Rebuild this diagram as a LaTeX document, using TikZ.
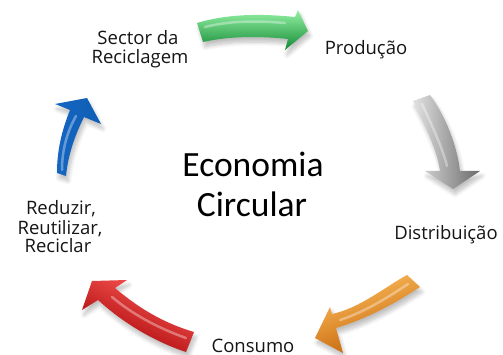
\documentclass[tikz,border=0pt]{standalone}
\usepackage{fontspec}
\setmainfont{Open Sans}
\newfontfamily\calfont{Carlito}
\usetikzlibrary{shadows.blur}
\definecolor{txt}{HTML}{151515}
\definecolor{gTop}{HTML}{95F2A5}\definecolor{gMid}{HTML}{2BC255}\definecolor{gBot}{HTML}{138A35}
\definecolor{yLeft}{HTML}{E2E2E2}\definecolor{yMid}{HTML}{ABABAB}\definecolor{yRight}{HTML}{6A6A6A}
\definecolor{oTop}{HTML}{FFC262}\definecolor{oMid}{HTML}{F08010}\definecolor{oBot}{HTML}{C05C00}
\definecolor{rTop}{HTML}{FF5A5A}\definecolor{rMid}{HTML}{E01515}\definecolor{rBot}{HTML}{A00000}
\definecolor{bLeft}{HTML}{1566C2}\definecolor{bMid}{HTML}{4CA9F2}\definecolor{bRight}{HTML}{105EB4}
\begin{document}
\begin{tikzpicture}[x=1pt,y=-1pt,
  lbl/.style={font=\fontsize{18.5}{19}\selectfont, text=txt, inner sep=0pt, anchor=base},
  big/.style={font=\calfont\fontsize{35.5}{40}\selectfont, text=black, inner sep=0pt, anchor=base},
  arr/.style={blur shadow={shadow xshift=2pt, shadow yshift=-5pt, shadow blur steps=8, shadow opacity=25, shadow blur radius=4pt}},
  hl/.style={line width=2.5pt, white, opacity=0.35, line cap=round}
]
\useasboundingbox (0,0) rectangle (503,355);

% labels
\node[lbl] (sec1) at (138,45) {Sector da};
\node[lbl] (sec2) at (140,64) {Reciclagem};
\node[lbl] (prod) at (366,55) {Produção};
\node[lbl] (dist) at (446,240) {Distribuição};
\node[lbl] (cons) at (253,352) {Consumo};
\node[lbl] (red1) at (61,215) {Reduzir,};
\node[lbl] (red2) at (60,235) {Reutilizar,};
\node[lbl] (red3) at (58,253) {Reciclar};
\node[big] (eco1) at (253,177) {Economia};
\node[big] (eco2) at (252,217) {Circular};

% green arrow
\path[arr, shade, top color=gTop, middle color=gMid, bottom color=gBot]
  (197,23) .. controls (230,13) and (265,14) .. (295,17)
  -- (298,10) -- (308,31) -- (285,50) -- (288,39)
  .. controls (260,36) and (230,36) .. (203,42) -- cycle;
\draw[hl] (205,27) .. controls (232,20) and (262,21) .. (285,23);

% gray arrow
\path[arr, shade, left color=yLeft, middle color=yMid, right color=yRight]
  (413,101) .. controls (425,125) and (437,150) .. (440,171)
  -- (425,171) -- (453,189) -- (480,171) -- (460,171)
  .. controls (457,145) and (445,115) .. (430,95) -- cycle;
\draw[hl] (422,104) .. controls (433,127) and (443,150) .. (447,166);

% orange arrow
\path[arr, shade, top color=oTop, middle color=oMid, bottom color=oBot, shading angle=20]
  (407,275) .. controls (385,287) and (360,308) .. (332,314)
  -- (330,307) -- (315,338) -- (343,353) -- (336,328)
  .. controls (370,318) and (400,300) .. (420,287) -- cycle;
\draw[hl] (408,284) .. controls (390,296) and (365,312) .. (340,320);

% red arrow
\path[arr, shade, top color=rTop, middle color=rMid, bottom color=rBot, shading angle=-25]
  (115,288) .. controls (135,305) and (160,322) .. (194,332)
  -- (186,352)
  .. controls (150,340) and (120,320) .. (98,300)
  -- (82,310) -- (92,281) -- (127,280) -- cycle;
\draw[hl] (112,297) .. controls (132,314) and (158,328) .. (186,338);

% blue arrow
\path[arr, shade, left color=bLeft, middle color=bMid, right color=bRight]
  (57,173) .. controls (57,150) and (62,130) .. (70,110)
  -- (55,104) -- (87,98) -- (101,124) -- (84,117)
  .. controls (75,135) and (68,155) .. (66,176) -- cycle;
\draw[hl] (62,170) .. controls (62,150) and (67,132) .. (76,116);
\end{tikzpicture}
\end{document}
